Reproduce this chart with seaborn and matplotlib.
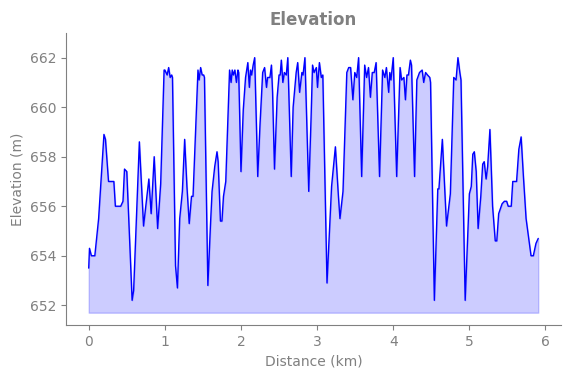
import seaborn as sns
import pandas as pd
import matplotlib
matplotlib.use("Agg")
import matplotlib.pyplot as plt

# distance along the route (km) and elevation (m)
distance_km = [
    0.00, 0.01, 0.035, 0.08, 0.13, 0.20, 0.22, 0.26, 0.33, 0.35, 0.42, 0.45, 0.47, 0.50,
    0.57, 0.59, 0.665, 0.72, 0.75, 0.79, 0.82, 0.86, 0.905, 0.945, 0.99,
    1.00, 1.03, 1.05, 1.07, 1.09, 1.10, 1.14, 1.165, 1.195, 1.23, 1.26, 1.29, 1.32, 1.35,
    1.37, 1.435, 1.45, 1.47, 1.49, 1.51, 1.52, 1.565, 1.60, 1.62, 1.655, 1.685, 1.70,
    1.73, 1.75, 1.77, 1.80, 1.85, 1.87, 1.885, 1.90, 1.92, 1.94, 1.96, 1.97,
    2.00, 2.03, 2.06, 2.09, 2.11, 2.125, 2.14, 2.16, 2.18, 2.22, 2.25, 2.285, 2.31,
    2.335, 2.35, 2.38, 2.40, 2.415, 2.44, 2.475, 2.50, 2.515, 2.53, 2.55, 2.57, 2.595,
    2.615, 2.66, 2.685, 2.725, 2.745, 2.77, 2.80, 2.815, 2.84, 2.89, 2.92, 2.94,
    2.96, 2.99, 3.005, 3.03, 3.055, 3.075, 3.13, 3.19, 3.24, 3.28, 3.30, 3.34, 3.39,
    3.415, 3.44, 3.47, 3.495, 3.52, 3.545, 3.585, 3.625, 3.65, 3.675, 3.70, 3.725,
    3.75, 3.775, 3.82, 3.86, 3.89, 3.91, 3.94, 3.955, 3.97, 4.00, 4.045, 4.09, 4.11,
    4.14, 4.16, 4.18, 4.20, 4.225, 4.24, 4.28, 4.31, 4.345, 4.38, 4.40, 4.425, 4.45,
    4.48, 4.49, 4.54, 4.585, 4.60, 4.645, 4.70, 4.75, 4.795, 4.825, 4.85, 4.875, 4.89,
    4.945, 5.00, 5.025, 5.045, 5.065, 5.09, 5.115, 5.15, 5.175, 5.195, 5.22, 5.24,
    5.27, 5.305, 5.34, 5.36, 5.385, 5.43, 5.46, 5.49, 5.51, 5.55, 5.57, 5.62, 5.65,
    5.68, 5.71, 5.745, 5.775, 5.81, 5.84, 5.875, 5.905,
]
elevation_m = [
    653.5, 654.3, 654.0, 654.0, 655.5, 658.9, 658.7, 657.0, 657.0, 656.0, 656.0, 656.2, 657.5, 657.4,
    652.2, 652.6, 658.6, 655.2, 656.0, 657.1, 655.7, 658.0, 655.1, 656.9, 661.5,
    661.5, 661.3, 661.6, 661.2, 661.3, 661.2, 653.6, 652.7, 655.5, 656.6, 658.7, 656.8, 655.3, 656.4,
    656.4, 661.5, 661.1, 661.6, 661.3, 661.3, 661.2, 652.8, 655.3, 656.6, 657.6, 658.2, 657.8,
    655.4, 655.4, 656.4, 657.0, 661.5, 661.0, 661.5, 661.3, 661.5, 661.0, 661.5, 661.4,
    657.4, 659.9, 661.2, 661.8, 660.8, 661.5, 661.3, 661.7, 662.0, 657.2, 659.3, 661.4, 661.6,
    660.8, 661.2, 661.2, 661.7, 660.6, 657.5, 660.4, 661.3, 661.3, 661.9, 661.0, 661.4, 661.3,
    662.0, 657.2, 660.0, 661.4, 661.8, 660.6, 661.4, 661.3, 662.0, 656.6, 659.5, 661.7,
    661.4, 661.6, 660.8, 661.8, 661.2, 661.3, 652.9, 656.8, 658.4, 656.4, 655.5, 656.6, 661.4,
    661.6, 661.6, 660.3, 661.4, 661.2, 662.0, 657.2, 661.7, 661.2, 661.6, 660.4, 661.4,
    661.4, 661.8, 657.2, 661.5, 661.2, 661.6, 660.6, 661.4, 661.1, 662.0, 657.2, 661.6, 661.1,
    661.2, 660.3, 661.3, 661.3, 661.9, 661.7, 657.2, 661.1, 661.4, 661.5, 661.0, 661.4, 661.3,
    661.2, 661.0, 652.2, 656.7, 656.7, 658.7, 655.2, 656.5, 661.2, 661.1, 662.0, 661.4, 661.1,
    652.2, 656.5, 656.8, 658.1, 658.2, 657.4, 655.1, 656.4, 657.7, 657.8, 657.1, 657.6,
    659.1, 656.0, 654.6, 654.6, 655.7, 656.1, 656.2, 656.2, 656.0, 656.0, 657.0, 657.0, 658.3,
    658.8, 657.2, 655.5, 654.8, 654.0, 654.0, 654.5, 654.7,
]

df = pd.DataFrame({"distance": distance_km, "elevation": elevation_m})

sns.set_style("ticks")
plt.rcParams["font.family"] = ["DejaVu Sans"]
grey = "#808080"

fig, ax = plt.subplots(figsize=(5.71, 3.78), dpi=100)
fig.subplots_adjust(left=0.116, right=0.982, top=0.913, bottom=0.140)

base = df["elevation"].min() - 0.5
ax.fill_between(df["distance"], df["elevation"], base, color="blue", alpha=0.2)
sns.lineplot(data=df, x="distance", y="elevation", color="blue", linewidth=1, ax=ax)

ax.set_ylim(df["elevation"].min() - 1, df["elevation"].max() + 1)
ax.set_title("Elevation", color=grey, fontsize=12, fontweight="bold")
ax.set_xlabel("Distance (km)", color=grey, fontsize=10)
ax.set_ylabel("Elevation (m)", color=grey, fontsize=10)
ax.tick_params(colors=grey, labelsize=10)
for side in ["left", "bottom"]:
    ax.spines[side].set_color(grey)
sns.despine(ax=ax)

fig.savefig("out.png", dpi=100)
